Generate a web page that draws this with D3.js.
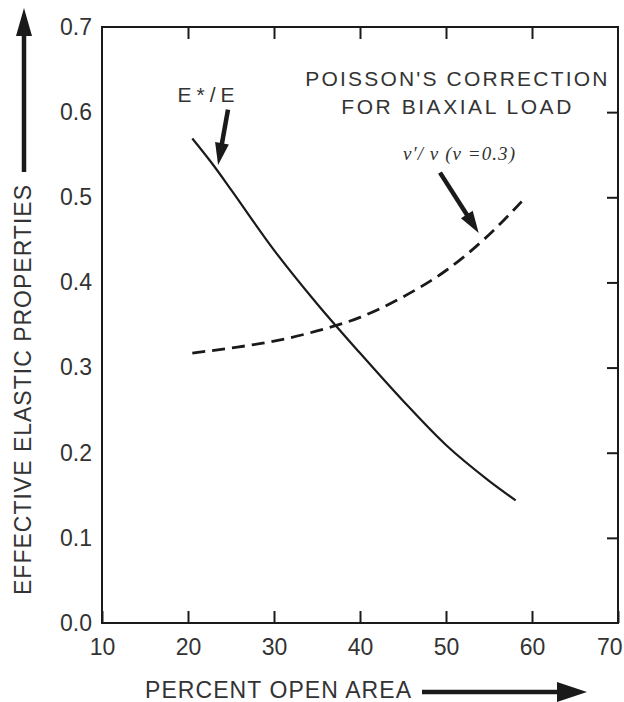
<!DOCTYPE html>
<html lang="en">
  <head>
    <meta charset="utf-8">
    <title>Effective elastic properties</title>
    <script type="text/javascript" src="https://cdn.jsdelivr.net/npm/d3@7"></script>
    <style>
      body { margin: 0; background: #fff; }
      text { font-family: "Liberation Sans", Arial, sans-serif; fill: #333; }
    </style>
  </head>
  <body>
    <script type="text/javascript">
    // values
    var openArea = [20.5, 23, 25, 30, 35, 40, 45, 50, 55, 58.1];
    var eRatio   = [0.569, 0.537, 0.509, 0.438, 0.375, 0.317, 0.261, 0.209, 0.167, 0.144];

    var openArea2 = [20.5, 25, 30, 35, 40, 45, 50, 55, 58.8];
    var nuRatio   = [0.317, 0.323, 0.331, 0.343, 0.359, 0.383, 0.414, 0.456, 0.495];

    var xTicks = [10, 20, 30, 40, 50, 60, 70];
    var yTicks = [0.0, 0.1, 0.2, 0.3, 0.4, 0.5, 0.6, 0.7];

    var w = 624;
    var h = 702;

    var svg = d3.select("body")
                .append("svg")
                .attr("width", w)
                .attr("height", h);

    var x = d3.scaleLinear().domain([10, 70]).range([102, 618]);
    var y = d3.scaleLinear().domain([0, 0.7]).range([623, 27]);

    var ink = "#1a1a1a";

    // inward ticks on bottom / top / right, labels on bottom and left only
    svg.append("g")
       .attr("transform", "translate(0," + y(0) + ")")
       .call(d3.axisBottom(x).tickValues(xTicks).tickSizeInner(-12).tickSizeOuter(0).tickPadding(16).tickFormat(d3.format("d")));
    svg.append("g")
       .attr("transform", "translate(0," + y(0.7) + ")")
       .call(d3.axisTop(x).tickValues(xTicks.slice(1, -1)).tickSizeInner(-12).tickSizeOuter(0).tickFormat(""));
    svg.append("g")
       .attr("transform", "translate(" + x(70) + ",0)")
       .call(d3.axisRight(y).tickValues(yTicks.slice(1, -1)).tickSizeInner(-11).tickSizeOuter(0).tickFormat(""));
    svg.append("g")
       .attr("transform", "translate(" + x(10) + ",0)")
       .call(d3.axisLeft(y).tickValues(yTicks).tickSize(0).tickPadding(10).tickFormat(d3.format(".1f")));

    svg.selectAll(".domain").remove();
    svg.selectAll(".tick line").attr("stroke", ink).attr("stroke-width", 2);
    svg.selectAll(".tick text")
       .style("font-size", "23px")
       .style("font-family", "'Liberation Sans', Arial, sans-serif")
       .attr("fill", "#383838");
    // last x label sits against the page edge
    svg.selectAll(".tick text").filter(function(d) { return d === 70; })
       .attr("text-anchor", "end").attr("dx", "4");

    // frame
    svg.append("rect")
       .attr("x", x(10)).attr("y", y(0.7))
       .attr("width", x(70) - x(10)).attr("height", y(0) - y(0.7))
       .attr("fill", "none").attr("stroke", ink).attr("stroke-width", 2);

    var line = d3.line()
                 .x(function(d) { return x(d[0]); })
                 .y(function(d) { return y(d[1]); })
                 .curve(d3.curveMonotoneX);

    svg.append("path")
       .datum(d3.zip(openArea, eRatio))
       .attr("d", line)
       .attr("fill", "none")
       .attr("stroke", ink)
       .attr("stroke-width", 2.2);

    svg.append("path")
       .datum(d3.zip(openArea2, nuRatio))
       .attr("d", line)
       .attr("fill", "none")
       .attr("stroke", ink)
       .attr("stroke-width", 2.8)
       .attr("stroke-dasharray", "13,7");

    // filled-head arrow from (x1,y1) to tip (x2,y2), pixel space
    var arrow = function(x1, y1, x2, y2, headLen, headHalf, shaft) {
      var dx = x2 - x1, dy = y2 - y1;
      var len = Math.sqrt(dx * dx + dy * dy);
      var ux = dx / len, uy = dy / len;
      var bx = x2 - ux * headLen, by = y2 - uy * headLen;
      svg.append("line")
         .attr("x1", x1).attr("y1", y1).attr("x2", bx + ux * 2).attr("y2", by + uy * 2)
         .attr("stroke", ink).attr("stroke-width", shaft);
      svg.append("path")
         .attr("d", "M" + x2 + "," + y2 +
                    "L" + (bx - uy * headHalf) + "," + (by + ux * headHalf) +
                    "L" + (bx + uy * headHalf) + "," + (by - ux * headHalf) + "Z")
         .attr("fill", ink);
    };

    // annotation arrows placed in data units
    arrow(x(24.65), y(0.603), x(23.5), y(0.538), 22, 7, 4.5);
    arrow(x(49.3), y(0.529), x(53.8), y(0.458), 22, 7, 4.5);

    // axis title arrows
    arrow(24, 172, 24, 8, 28, 8, 4.5);
    arrow(422, 692, 587, 692, 30, 10, 4.5);

    svg.append("text")
       .attr("x", x(22.1)).attr("y", y(0.612))
       .attr("text-anchor", "middle")
       .attr("textLength", 57).attr("lengthAdjust", "spacing")
       .style("font-size", "21px")
       .text("E*/E");

    svg.append("text")
       .attr("x", x(51.2)).attr("y", 86)
       .attr("text-anchor", "middle")
       .attr("textLength", 302).attr("lengthAdjust", "spacing")
       .style("font-size", "21px")
       .text("POISSON'S CORRECTION");

    svg.append("text")
       .attr("x", x(51.2)).attr("y", 114)
       .attr("text-anchor", "middle")
       .attr("textLength", 230).attr("lengthAdjust", "spacing")
       .style("font-size", "21px")
       .text("FOR BIAXIAL LOAD");

    svg.append("text")
       .attr("x", 459).attr("y", 160)
       .attr("text-anchor", "middle")
       .attr("textLength", 112).attr("lengthAdjust", "spacing")
       .style("font-family", "'Liberation Serif', 'Times New Roman', serif")
       .style("font-style", "italic")
       .style("font-size", "19px")
       .attr("fill", "#2a2a2a")
       .text("\u03bd\u2032/ \u03bd (\u03bd =0.3)");

    svg.append("text")
       .attr("x", 145).attr("y", 698)
       .attr("textLength", 266).attr("lengthAdjust", "spacing")
       .style("font-size", "23px")
       .text("PERCENT OPEN AREA");

    svg.append("text")
       .attr("transform", "translate(31,595) rotate(-90)")
       .attr("textLength", 410).attr("lengthAdjust", "spacing")
       .style("font-size", "23px")
       .text("EFFECTIVE ELASTIC PROPERTIES");
    </script>
  </body>
</html>
